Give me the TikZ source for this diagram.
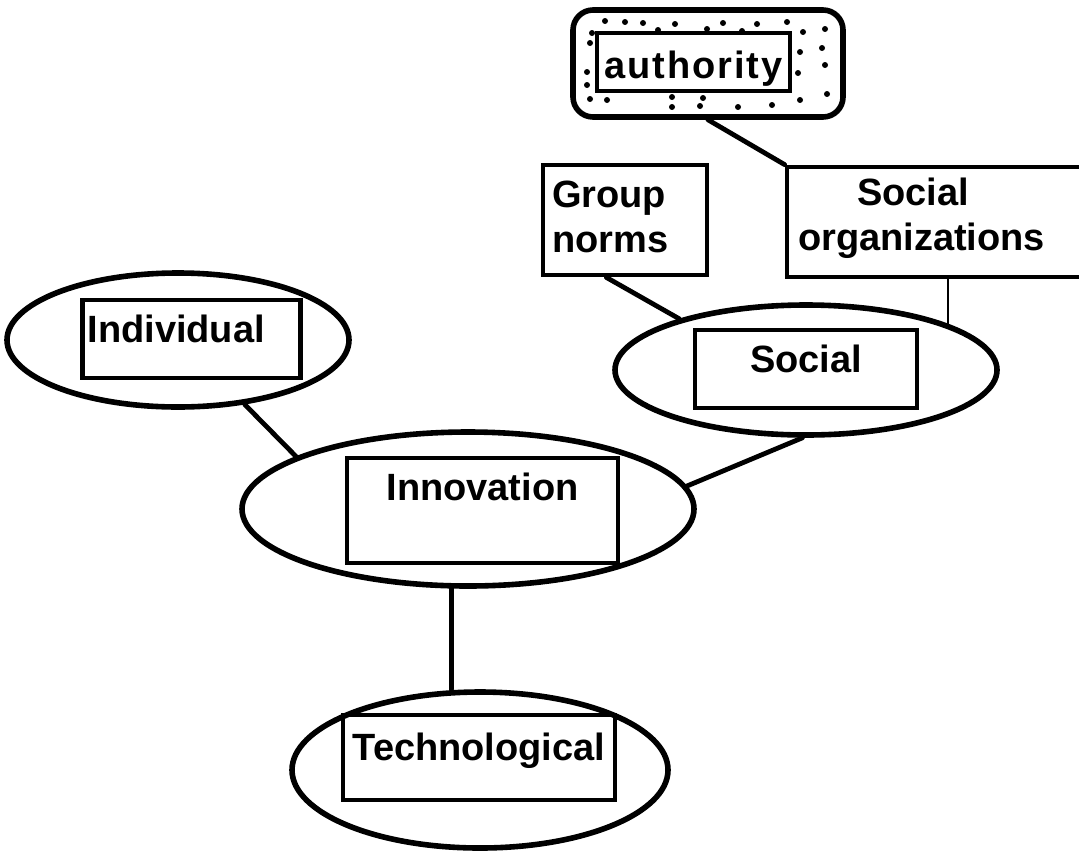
\documentclass[tikz,border=0pt]{standalone}
\usepackage{fontspec}
\setmainfont{Liberation Sans}
\usetikzlibrary{shapes.geometric}
\tikzstyle{bubble} = [ellipse, draw, line width=2.8pt, inner sep=0pt]
\tikzstyle{tag} = [rectangle, draw, line width=2.4pt, inner sep=0pt, font=\fontsize{19}{22.75}\selectfont\bfseries]
\tikzstyle{link} = [line width=2.4pt, line cap=round]
\tikzstyle{thinlink} = [line width=1.2pt]

\begin{document}
\begin{tikzpicture}[x=0.5pt, y=-0.5pt]
\clip (0,0) rectangle (1079,851);

\node (innovE) [bubble, minimum width=226pt, minimum height=77pt] at (468,509) {};
\node (innov) [tag, minimum width=135.5pt, text height=21pt, text depth=31.5pt] at (482.5,510.5) {Innovation};

\node (indivE) [bubble, minimum width=171pt, minimum height=67pt] at (178,340) {};
\node (indiv) [tag, text width=104pt, inner xsep=2.5pt, align=left, text height=21pt, text depth=18pt] at (191.5,339) {Individual};

\node (socE) [bubble, minimum width=191pt, minimum height=65pt] at (806,370) {};
\node (soc) [tag, minimum width=111pt, text height=21pt, text depth=18pt] at (806,369) {Social};

\node (techE) [bubble, minimum width=188pt, minimum height=78pt] at (480,770) {};
\node (tech) [tag, minimum width=136pt, text height=22.5pt, text depth=20pt] at (479,757.5) {Technological};

\node (grp) [tag, text width=73pt, inner xsep=4.5pt, align=left, text height=21pt, text depth=34pt] at (625,220) {Group\\norms};
\node (org) [tag, text width=143pt, inner xsep=5.5pt, align=left, text height=19pt, text depth=36pt] at (941,222) {\hspace*{29.5pt}Social\\organizations};

% authority box with stipple
\node (authbox) [rectangle, rounded corners=10pt, draw, line width=2.8pt, minimum width=135pt, minimum height=53.5pt] at (708,63.5) {};
\foreach \p in {(605,21),(625,22),(643,23),(658,30),(675,24),(707,29),(723,23),(742,31),(757,24),(787,22),(803,32),(825,29),
  (592,33),(590,43),(587,72),(587,85),(590,99),(607,100),
  (672,97),(672,107),(703,98),(700,106),(738,107),(772,105),(800,100),(827,94),
  (800,52),(822,48),(798,73),(825,65)}
  \fill \p circle (1.5pt);
\node (auth) [tag, fill=white, minimum width=96.5pt, text height=22.5pt, text depth=6.5pt] at (693.5,62) {\addfontfeature{LetterSpace=5}authority};

\draw [link] (authbox.south) -- (org.north west);
\draw [link] (grp.252) -- (socE.158);
\draw [thinlink] (socE.18) -- (socE.18 |- org.south);
\draw [link] (indivE.-44) -- (innovE.163);
\draw [link] (socE.-93) -- (innovE.6);
\draw [link] (innovE.-102) -- (innovE.-102 |- techE.north);
\end{tikzpicture}
\end{document}
